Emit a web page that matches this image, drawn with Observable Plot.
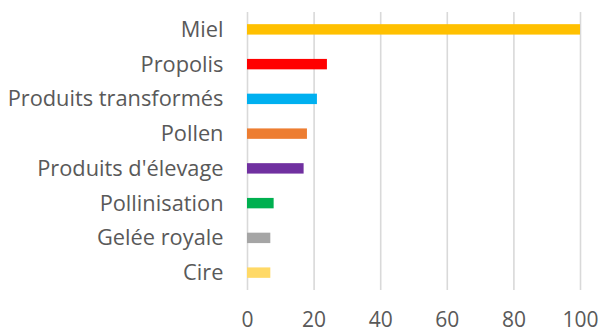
<!DOCTYPE html>
<html>
<head>
<meta charset="utf-8">
<script src="https://cdn.jsdelivr.net/npm/d3@7"></script>
<script src="https://cdn.jsdelivr.net/npm/@observablehq/plot@0.6"></script>
<style>
  html, body { margin: 0; padding: 0; background: #fff; }
  #chart svg { display: block; }
</style>
</head>
<body>
<div id="chart"></div>
<script>
// Apicultural products, relative importance (Miel = 100)
const categories = ["Miel", "Propolis", "Produits transformés", "Pollen", "Produits d'élevage", "Pollinisation", "Gelée royale", "Cire"];
const values = [100, 24, 21, 18, 17, 8, 7, 7];
const colors = ["#FFC000", "#FF0000", "#00B0F0", "#ED7D31", "#7030A0", "#00B050", "#A5A5A5", "#FFD966"];
const xTicks = [0, 20, 40, 60, 80, 100];

const data = categories.map((c, i) => ({category: c, value: values[i]}));

const chart = Plot.plot({
  width: 600,
  height: 334,
  marginLeft: 247,
  marginRight: 20,
  marginTop: 12,
  marginBottom: 44,
  style: {fontFamily: "'Open Sans'", fontSize: "20px", color: "#595959", background: "#fff"},
  x: {domain: [0, 100], ticks: xTicks, label: null},
  y: {domain: categories, paddingInner: 0.7, paddingOuter: 0.35, round: false, label: null},
  color: {domain: categories, range: colors},
  marks: [
    Plot.gridX(xTicks, {stroke: "#D9D9D9", strokeOpacity: 1, strokeWidth: 1.6}),
    Plot.barX(data, {x: "value", y: "category", fill: "category"}),
    Plot.axisX({ticks: xTicks, tickSize: 0, tickPadding: 22, fontSize: 21, fill: "#595959"}),
    Plot.axisY({tickSize: 0, tickPadding: 24, fontSize: 21.8, fill: "#595959"})
  ]
});

document.getElementById("chart").appendChild(chart);
</script>
</body>
</html>
